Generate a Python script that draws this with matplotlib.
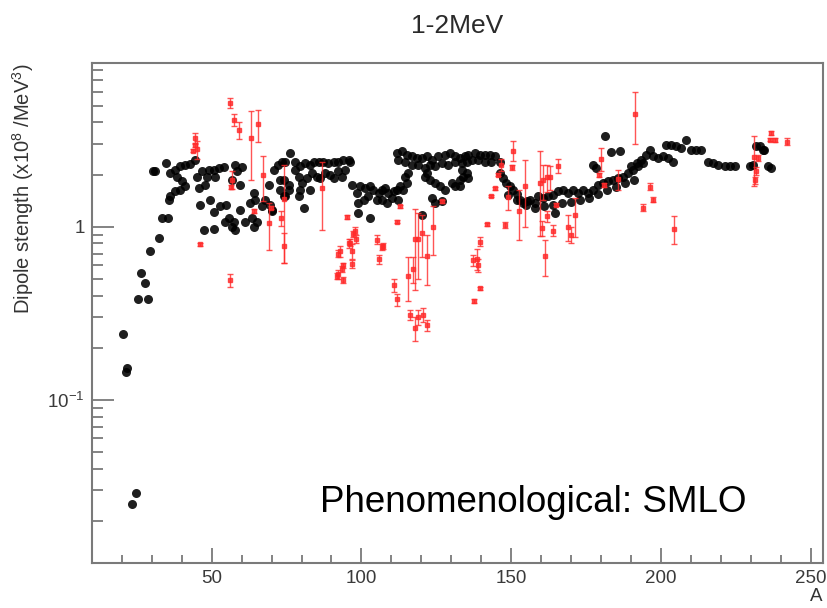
import numpy as np
import matplotlib
matplotlib.use("Agg")
import matplotlib.pyplot as plt
from matplotlib.ticker import FixedLocator, FuncFormatter, NullFormatter

plt.rcParams['font.family'] = ['Liberation Sans', 'DejaVu Sans']
plt.rcParams['mathtext.fontset'] = 'custom'
plt.rcParams['mathtext.rm'] = 'Liberation Sans'
plt.rcParams['mathtext.it'] = 'Liberation Sans:italic'

# SMLO calculation (black points): mass number A and dipole strength
smlo_a = [20.3, 21.3, 21.6, 23.3, 24.6, 25.4, 28.7, 26.3, 27.6, 29.3, 32.4, 33.4, 35.4,
          30.4, 31.2, 34.6, 36.2, 37.7, 39.6, 41.2, 42.9, 44.6, 38.4, 40.1, 41.2, 39.6, 37.9,
          36.2, 35.7, 45.1, 45.7, 47.9, 46.8, 49.0, 50.7, 52.3, 54.0, 51.2, 48.4, 60.1, 58.4,
          56.8, 59.6, 57.9,
          46.2, 49.6, 50.7, 52.9, 54.9, 47.3, 50.7, 54.6, 55.7, 57.3, 57.9, 56.8, 59.6, 61.2,
          63.4, 64.0, 65.1, 64.0, 62.9, 64.6, 66.8, 67.9, 69.6, 70.1, 69.0, 70.7, 72.3, 74.6,
          72.9, 74.6, 75.7, 70.1,
          76.2, 73.4, 77.9, 79.6, 81.2, 82.9, 84.0, 85.7, 87.3, 89.0, 90.7, 92.3, 94.0, 95.7,
          96.2, 74.0, 75.7, 77.9, 79.0, 80.1, 81.8, 82.9, 83.4, 85.1, 86.2, 87.9, 89.6, 90.7,
          92.3, 93.4, 94.6, 79.0, 80.7, 79.6, 74.0, 72.9,
          96.8, 98.4, 99.6, 101.2, 102.9, 104.0, 105.7, 106.8, 107.9, 109.0, 110.7, 111.8,
          112.9, 114.0, 115.1, 114.6, 115.7, 99.0, 100.7, 102.3, 102.9, 99.0, 105.1, 106.8,
          108.4, 110.1, 112.3, 120.1,
          111.8, 113.4, 115.1, 116.8, 118.4, 120.1, 121.8, 123.4, 125.7, 127.9, 129.6, 131.2,
          132.9, 134.6, 112.3, 114.6, 116.8, 119.0, 121.2, 122.9, 124.6, 126.8, 129.0, 131.2,
          133.4, 135.1, 121.2, 122.9, 124.6, 126.2, 127.9, 130.1, 131.2, 132.9, 134.0, 135.1,
          123.4, 124.6, 126.8, 121.8,
          135.7, 137.9, 139.6, 141.2, 142.9, 144.6, 146.2, 136.8, 139.0, 141.2, 143.4, 133.4,
          135.7, 132.9,
          146.2, 147.3, 148.4, 149.6, 150.7, 151.8, 152.9, 154.0, 155.1, 156.2, 157.9, 159.0,
          160.7, 162.3, 164.0, 165.7, 167.3, 169.0, 170.7, 172.3, 174.0, 175.7, 177.3, 179.0,
          180.7, 182.3, 184.0, 185.7, 187.3, 189.0, 190.7, 192.3, 194.0,
          149.0, 152.0, 155.0, 158.0, 161.0, 164.0, 167.0, 170.0, 173.0, 176.0, 179.0, 182.0,
          185.0, 188.0, 191.0,
          164.6, 181.2, 183.4, 186.3, 177.3, 178.4,
          190.1, 191.8, 193.4, 195.1, 196.2, 197.3, 199.0, 200.7, 202.3, 204.0, 201.8, 203.4,
          205.1, 206.8, 208.4, 210.1, 211.8, 213.4, 215.7, 217.3, 219.0, 221.2, 222.9, 224.6,
          229.6, 230.7, 234.0, 232.9, 235.7, 236.8, 234.5, 231.8]
smlo_s = [0.24, 0.145, 0.153, 0.025, 0.029, 0.38, 0.38, 0.54, 0.47, 0.72, 0.86, 1.13, 1.13,
          2.09, 2.09, 2.33, 2.04, 2.14, 2.24, 2.28, 2.31, 2.44, 1.95, 1.83, 1.71, 1.64, 1.60,
          1.50, 1.43, 1.95, 1.67, 1.75, 2.09, 2.14, 2.14, 2.18, 2.21, 1.94, 1.94, 2.21, 2.09,
          1.87, 1.74, 2.26,
          1.34, 1.43, 1.21, 1.31, 1.34, 0.96, 0.97, 1.07, 1.12, 1.07, 0.96, 1.00, 1.25, 1.07,
          1.12, 1.00, 1.07, 1.57, 1.37, 1.43, 1.31, 1.43, 1.34, 1.25, 1.75, 2.14, 2.28, 2.38,
          1.87, 1.50, 1.64, 1.23,
          2.66, 2.38, 2.38, 2.24, 2.33, 2.28, 2.38, 2.38, 2.38, 2.33, 2.38, 2.38, 2.44, 2.44,
          2.38, 1.87, 1.75, 2.14, 1.95, 1.79, 1.91, 1.64, 2.04, 1.95, 1.91, 2.04, 2.00, 1.91,
          2.09, 1.95, 2.14, 1.50, 1.28, 1.64, 1.50, 1.64,
          1.75, 1.57, 1.71, 1.67, 1.71, 1.64, 1.57, 1.64, 1.67, 1.57, 1.60, 1.64,
          1.71, 1.64, 1.79, 1.95, 2.04, 1.37, 1.43, 1.50, 1.12, 1.20, 1.43, 1.43,
          1.37, 1.46, 1.43, 1.17,
          2.67, 2.73, 2.61, 2.55, 2.49, 2.49, 2.55, 2.44, 2.55, 2.61, 2.67, 2.55,
          2.49, 2.55, 2.44, 2.38, 2.28, 2.28, 2.18, 2.28, 2.24, 2.33, 2.28, 2.38,
          2.33, 2.38, 1.95, 1.87, 1.79, 1.71, 1.64, 1.79, 1.71, 1.87, 1.95, 2.04,
          1.46, 1.37, 1.40, 2.04,
          2.61, 2.67, 2.61, 2.61, 2.61, 2.55, 2.38, 2.44, 2.44, 2.38, 2.38, 2.14,
          1.91, 1.71,
          2.04, 1.91, 1.79, 1.71, 1.64, 1.55, 1.43, 1.37, 1.40, 1.43, 1.37, 1.50,
          1.46, 1.50, 1.53, 1.60, 1.64, 1.57, 1.64, 1.57, 1.64, 1.57, 1.64, 1.75,
          1.79, 1.83, 1.87, 1.91, 1.95, 2.04, 2.14, 2.24, 2.33,
          1.53, 1.43, 1.34, 1.29, 1.32, 1.34, 1.37, 1.39, 1.43, 1.46, 1.55, 1.62,
          1.70, 1.78, 1.87,
          1.20, 3.33, 2.69, 2.73, 2.28, 2.18,
          2.23, 2.33, 2.44, 2.61, 2.79, 2.55, 2.49, 2.55, 2.49, 2.38, 2.98, 2.98,
          2.92, 2.85, 3.18, 2.79, 2.79, 2.79, 2.38, 2.33, 2.28, 2.23, 2.23, 2.25,
          2.23, 2.28, 2.79, 2.92, 2.23, 2.18, 2.79, 2.92]

# experimental data (red points with error bars)
exp_a = [44.3, 45.1, 43.8, 44.6, 56.2, 57.3, 59.2, 63.2, 65.4, 56.8, 56.5, 46.2, 56.2,
         67.3, 69.0, 69.9, 73.2, 74.2, 74.0, 64.0,
         86.8, 95.1, 97.9, 97.3, 96.2, 92.9, 92.3, 94.0, 92.3, 94.0, 96.8, 95.7, 96.8, 98.3,
         93.4, 91.8,
         105.1, 106.8, 105.7, 107.3,
         111.8, 112.9, 110.7, 111.8, 115.7, 117.3, 117.9, 119.0, 120.1, 121.8, 124.0, 116.2,
         117.9, 119.0, 120.7, 121.8, 126.8,
         141.8, 139.6, 138.4, 137.3, 139.0, 139.6, 137.7, 143.4, 144.6, 145.7, 146.7, 147.9,
         149.0, 150.7, 150.1, 152.6, 154.6, 159.6, 160.7, 161.8, 162.9, 160.1, 161.8, 164.0,
         161.4, 165.6, 165.0, 169.0, 170.1, 171.2,
         180.1, 179.3, 181.0, 185.7, 191.2, 194.0, 196.2, 197.3, 204.3,
         231.0, 231.8, 232.5, 231.5, 236.8, 237.9, 236.2, 242.1]
exp_s = [3.25, 2.80, 2.75, 2.95, 5.20, 4.15, 3.60, 3.25, 3.90, 1.87, 1.70, 0.79, 0.49,
         1.98, 1.05, 1.29, 1.12, 1.45, 0.77, 1.23,
         1.67, 1.14, 0.95, 0.91, 0.81, 0.72, 0.70, 0.60, 0.53, 0.49, 0.61, 0.80, 0.72, 0.85,
         0.57, 0.52,
         0.84, 0.76, 0.65, 0.77,
         1.07, 1.31, 0.46, 0.38, 0.52, 0.57, 0.85, 0.85, 0.92, 0.68, 1.00, 0.31,
         0.26, 0.30, 0.31, 0.27, 1.40,
         1.03, 0.82, 0.65, 0.64, 0.60, 0.44, 0.37, 1.50, 1.67, 2.00, 2.28, 1.02,
         1.48, 2.75, 2.20, 1.24, 1.72, 1.80, 1.85, 1.93, 1.94, 0.98, 1.15, 0.95,
         0.68, 2.25, 1.34, 1.00, 0.90, 1.17,
         2.47, 2.00, 1.75, 1.89, 4.50, 1.29, 1.70, 1.43, 0.97,
         2.52, 2.10, 2.50, 1.85, 3.48, 3.18, 3.18, 3.10]
exp_err = [0.22, 0.33, 0.05, 0.05, 0.35, 0.32, 0.40, 1.40, 0.80, 0.22, 0.05, 0.02, 0.04,
           0.58, 0.32, 0.03, 0.11, 0.83, 0.15, 0.03,
           0.71, 0.03, 0.04, 0.04, 0.04, 0.05, 0.03, 0.02, 0.03, 0.02, 0.03, 0.05, 0.07, 0.05,
           0.02, 0.02,
           0.05, 0.03, 0.04, 0.03,
           0.02, 0.02, 0.04, 0.03, 0.15, 0.10, 0.42, 0.35, 0.25, 0.22, 0.31, 0.02,
           0.04, 0.03, 0.03, 0.02, 0.03,
           0.02, 0.05, 0.09, 0.05, 0.05, 0.01, 0.01, 0.02, 0.03, 0.03, 0.18, 0.04,
           0.23, 0.36, 0.07, 0.40, 0.72, 0.92, 0.43, 0.35, 0.30, 0.10, 0.08, 0.07,
           0.16, 0.20, 0.03, 0.17, 0.10, 0.30,
           0.38, 0.05, 0.05, 0.25, 1.50, 0.06, 0.08, 0.05, 0.18,
           0.81, 0.10, 0.10, 0.08, 0.10, 0.08, 0.06, 0.15]

x_major = [50, 100, 150, 200, 250]
y_major = [0.1, 1]

fig = plt.figure(figsize=(8.27, 6.08), dpi=100)
ax = fig.add_axes([0.111, 0.074, 0.884, 0.822])

ax.plot(smlo_a, smlo_s, 'o', color='black', markersize=6.5, markeredgewidth=0, alpha=0.88)
ax.errorbar(exp_a, exp_s, yerr=exp_err, fmt='s', color='#ff2a2a', markersize=2.2,
            elinewidth=1.0, capsize=2.2, capthick=1.0, alpha=0.8)

ax.set_yscale('log')
ax.set_xlim(10, 254)
ax.set_ylim(0.0114, 8.8)

ax.xaxis.set_major_locator(FixedLocator(x_major))
ax.xaxis.set_minor_locator(FixedLocator(np.arange(10, 251, 10)))
ax.yaxis.set_major_locator(FixedLocator(y_major))
minor_y = [m * d for d in [0.01, 0.1, 1] for m in range(2, 10)]
ax.yaxis.set_minor_locator(FixedLocator(minor_y))
ax.yaxis.set_minor_formatter(NullFormatter())
ax.yaxis.set_major_formatter(FuncFormatter(lambda v, p: '1' if v == 1 else r'$10^{-1}$'))

ax.tick_params(which='both', direction='in', top=False, right=False, colors='#7a7a7a',
               labelcolor='#3a3a3a', labelsize=13.5, width=1.3)
ax.tick_params(axis='x', which='major', length=11, pad=5)
ax.tick_params(axis='x', which='minor', length=5.5)
ax.tick_params(axis='y', which='major', length=16, pad=5)
ax.tick_params(axis='y', which='minor', length=8)
for side in ax.spines.values():
    side.set_color('#7a7a7a')
    side.set_linewidth(1.5)

ax.set_title('1-2MeV', fontsize=19, color='#2a2a2a', pad=22)
ax.set_ylabel(r'Dipole stength (x10$^{8}$ /MeV$^{3}$)', fontsize=14.5, color='#333333',
              loc='top')
ax.yaxis.set_label_coords(-0.077, 1.0)
ax.set_xlabel('A', fontsize=13.5, color='#333333', loc='right', labelpad=1)

ax.text(0.312, 0.102, 'Phenomenological: SMLO', transform=ax.transAxes, fontsize=26.5,
        color='black')

fig.savefig('out.png', dpi=100)
